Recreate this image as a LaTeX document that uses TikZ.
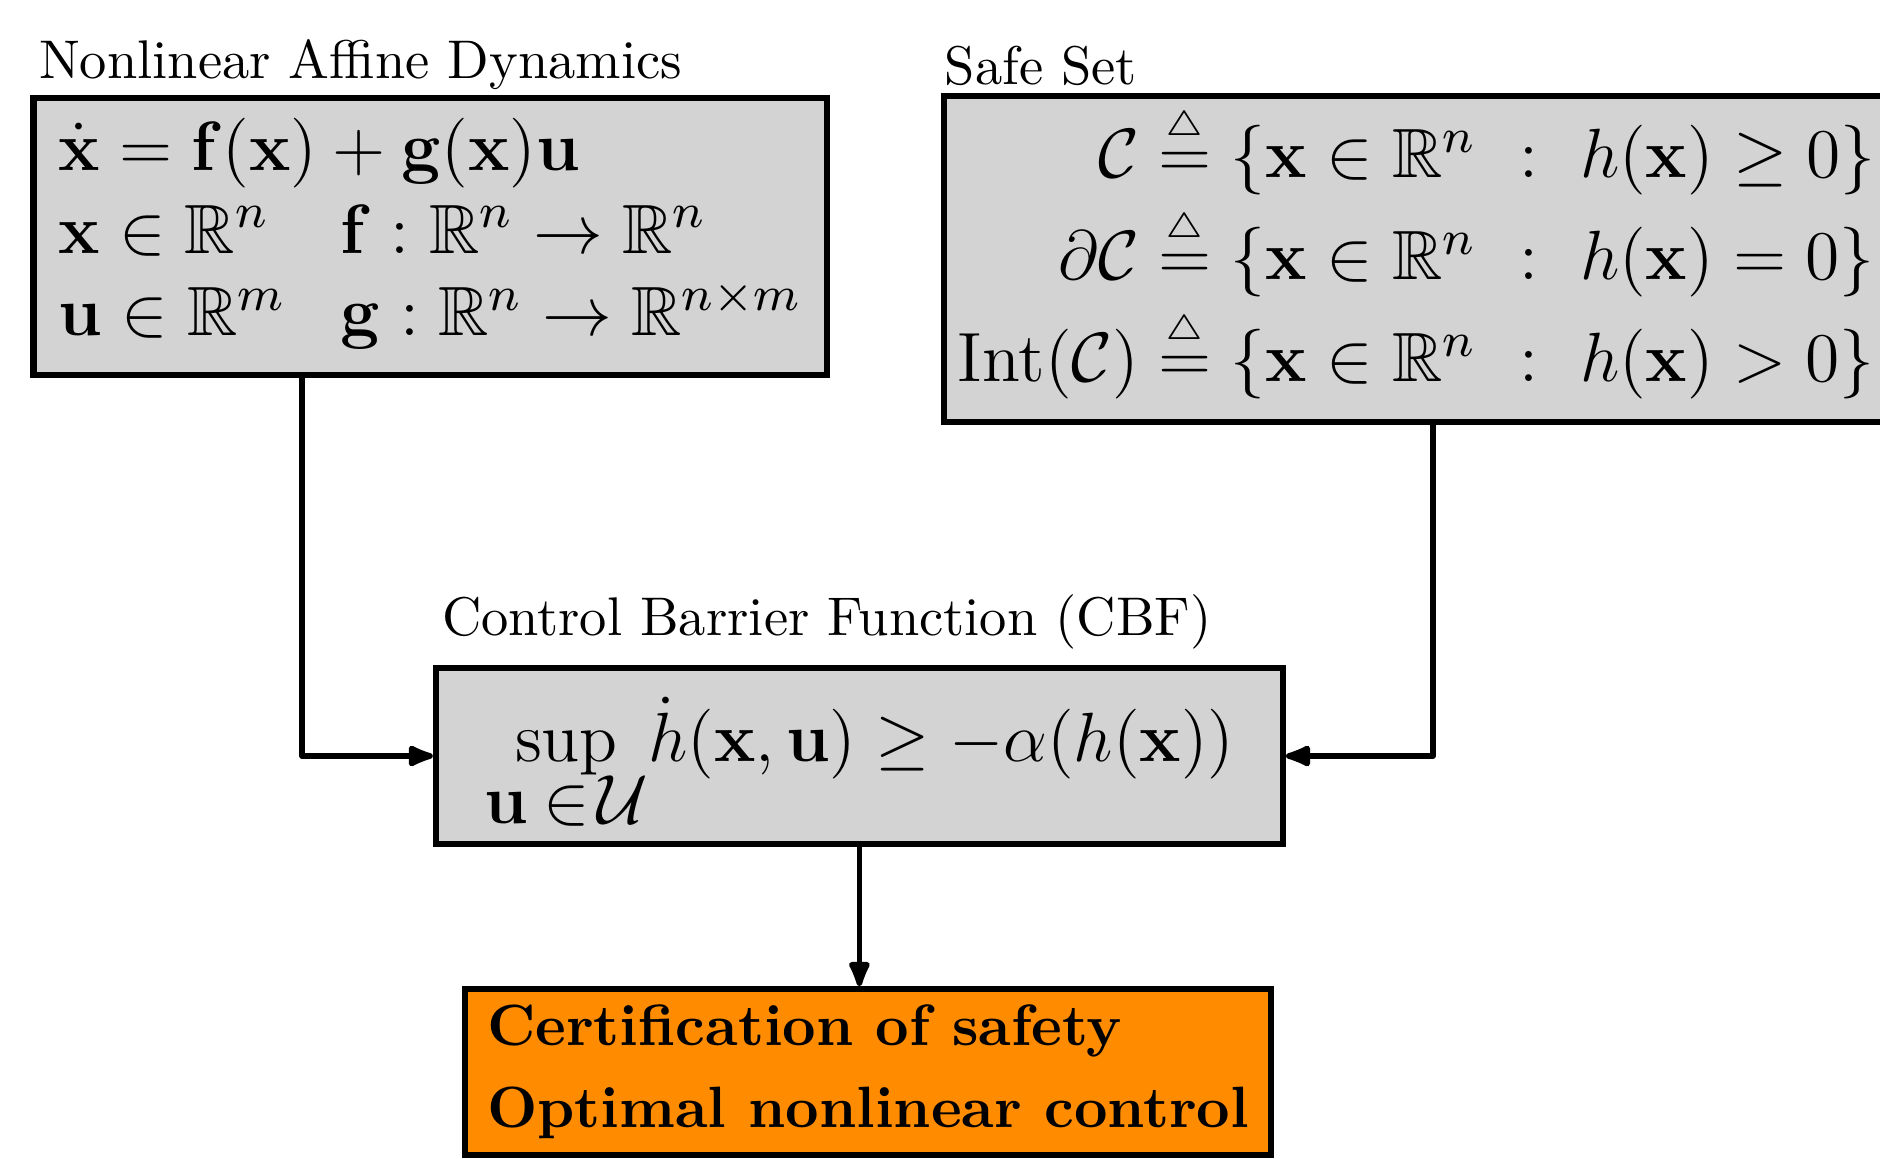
\RequirePackage{fix-cm}
\documentclass[tikz,border=0pt]{standalone}
\usepackage{amsmath}
\usepackage{amssymb}
\DeclareFontFamily{U}{msb}{}
\DeclareFontShape{U}{msb}{m}{n}{<-6> msbm5 <6-8> msbm7 <8-> msbm10}{}
\usetikzlibrary{positioning, arrows.meta}
\definecolor{boxgray}{RGB}{211,211,211}
\definecolor{certorange}{RGB}{255,140,0}
\newcommand{\defeq}{\mathrel{\vbox{\offinterlineskip\halign{\hfil##\hfil\cr
    $\scriptscriptstyle\triangle$\cr\noalign{\kern1.8pt}$=$\cr}}}}
\newcommand{\bx}{\mathbf{x}}
\newcommand{\bu}{\mathbf{u}}
\tikzset{block/.style={draw, line width=1.15pt, fill=boxgray, inner sep=0pt},
         heading/.style={anchor=base west, inner sep=0pt, font=\fontsize{10}{12}\selectfont},
         result/.style={block, fill=certorange, align=left, font=\fontsize{10.7}{15}\selectfont\bfseries},
         conn/.style={line width=1.05pt, line join=round, -{Latex[length=6pt,width=4.6pt,round]}},
        }

\begin{document}
\begin{tikzpicture}
        \useasboundingbox (0,0) rectangle (12.13,7.472);

        % the three input/condition blocks
        \node[block, minimum width=5.12cm, minimum height=1.787cm, font=\fontsize{12.8}{15.2}\selectfont](dyn)at(2.776,5.946){$\begin{array}{@{}l@{\hspace{10pt}}l@{}}
            \multicolumn{2}{@{}l@{}}{\dot{\bx} = \mathbf{f}(\bx) + \mathbf{g}(\bx)\bu}\\
            \bx \in \mathbb{R}^n & \mathbf{f} : \mathbb{R}^n \to \mathbb{R}^n\\
            \bu \in \mathbb{R}^m & \mathbf{g} : \mathbb{R}^n \to \mathbb{R}^{n\times m}
          \end{array}$};
        \node[block, minimum width=6.104cm, minimum height=2.103cm, font=\fontsize{12.8}{18.7}\selectfont](safe)at(9.142,5.800){$\begin{array}{@{}r@{}l@{}}
            \mathcal{C} & {}\defeq \{\bx \in \mathbb{R}^n \ :\ h(\bx) \geq 0\}\\
            \partial\mathcal{C} & {}\defeq \{\bx \in \mathbb{R}^n \ :\ h(\bx) = 0\}\\
            \mathrm{Int}(\mathcal{C}) & {}\defeq \{\bx \in \mathbb{R}^n \ :\ h(\bx) > 0\}
          \end{array}$};
        \node[block, minimum width=5.465cm, minimum height=1.136cm, text height=10pt, text depth=7.8pt, font=\fontsize{12.8}{16}\selectfont](cbf)at(5.545,2.594){\renewcommand{\arraystretch}{0.7}$\begin{array}[t]{@{}c@{}}
            \sup\\ \smash[t]{\bu\mspace{4mu}{\in}\mspace{2mu}\mathcal{U}}
          \end{array}\dot{h}(\bx,\bu) \geq -\alpha(h(\bx))$};
        \node[result, minimum width=5.2cm, minimum height=1.071cm](cert)at(5.600,0.555){Certification of safety\\Optimal nonlinear control};

        \node[heading](dynT)at(0.245,6.968){Nonlinear Affine Dynamics};
        \node[heading](safeT)at(6.09,6.929){Safe Set};
        \node[heading](cbfT)at(2.845,3.374){Control Barrier Function (CBF)};

        \draw[conn]([xshift=-0.827cm]dyn.south)|-(cbf.west);
        \draw[conn]([xshift=0.103cm]safe.south)|-(cbf.east);
        \draw[conn](cbf.south)--(cbf.south|-cert.north);
    \end{tikzpicture}
\end{document}
